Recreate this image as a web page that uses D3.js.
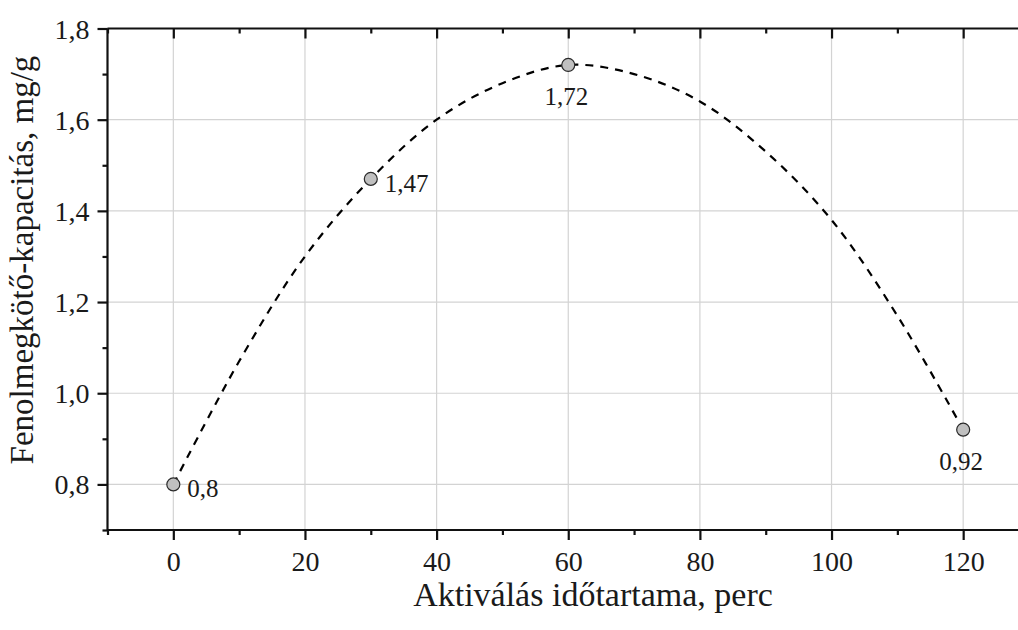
<!DOCTYPE html>
<html>
<head>
<meta charset="utf-8">
<script src="https://cdn.jsdelivr.net/npm/d3@7"></script>
<style>
  html, body { margin: 0; padding: 0; background: #fff; overflow: hidden; }
  svg { display: block; }
</style>
</head>
<body>
<svg id="chart" width="1018" height="630"></svg>
<script>
// ---- data ----
const times = [0, 30, 60, 120];                 // Aktiválás időtartama, perc
const capacity = [0.80, 1.47, 1.72, 0.92];       // Fenolmegkötő-kapacitás, mg/g
const pointLabels = ["0,8", "1,47", "1,72", "0,92"];
const labelSide = ["right", "right", "below", "below"];
// dashed trend curve
const curveX = [0, 10, 20, 30, 40, 50, 60, 70, 80, 90, 100, 110, 120];
const curveY = [0.80, 1.07, 1.30, 1.47, 1.60, 1.68, 1.72, 1.70, 1.64, 1.53, 1.38, 1.17, 0.92];
const xMajorTicks = [0, 20, 40, 60, 80, 100, 120];
const xMinorTicks = [-10, 10, 30, 50, 70, 90, 110, 130];
const yMajorTicks = [0.8, 1.0, 1.2, 1.4, 1.6, 1.8];
const yMinorTicks = [0.7, 0.9, 1.1, 1.3, 1.5, 1.7];
const xTitle = "Aktiválás időtartama, perc";
const yTitle = "Fenolmegkötő-kapacitás, mg/g";

// ---- layout ----
const FONT = '"Liberation Serif", "Times New Roman", serif';
const svg = d3.select("#chart");
const L = 107.5, R = 1029, T = 28.5, B = 530;
const x = d3.scaleLinear().domain([-10, 130]).range([L, R]);
const y = d3.scaleLinear().domain([0.7, 1.8]).range([B, T]);
const fmt = d => d3.format(".1f")(d).replace(".", ",");

// grid
const grid = svg.append("g").attr("stroke", "#d3d3d3").attr("stroke-width", 1.2);
grid.selectAll("line.v").data(xMajorTicks).join("line")
  .attr("x1", d => x(d)).attr("x2", d => x(d)).attr("y1", T).attr("y2", B);
grid.selectAll("line.h").data(yMajorTicks.filter(d => d < 1.8)).join("line")
  .attr("x1", L).attr("x2", R).attr("y1", d => y(d)).attr("y2", d => y(d));

// bottom axis
const gBottom = svg.append("g").attr("transform", `translate(0,${B})`)
  .call(d3.axisBottom(x).tickValues(xMajorTicks).tickSize(10).tickPadding(10).tickFormat(d3.format("d")));
const gBottomMinor = svg.append("g").attr("transform", `translate(0,${B})`)
  .call(d3.axisBottom(x).tickValues(xMinorTicks).tickSize(5).tickFormat(""));
// top axis (inward ticks)
const gTop = svg.append("g").attr("transform", `translate(0,${T})`)
  .call(d3.axisBottom(x).tickValues(xMajorTicks).tickSize(10).tickFormat(""));
const gTopMinor = svg.append("g").attr("transform", `translate(0,${T})`)
  .call(d3.axisBottom(x).tickValues(xMinorTicks).tickSize(5).tickFormat(""));
// left axis
const gLeft = svg.append("g").attr("transform", `translate(${L},0)`)
  .call(d3.axisLeft(y).tickValues(yMajorTicks).tickSize(10).tickPadding(8).tickFormat(fmt));
const gLeftMinor = svg.append("g").attr("transform", `translate(${L},0)`)
  .call(d3.axisLeft(y).tickValues(yMinorTicks).tickSize(5).tickFormat(""));

[gBottom, gBottomMinor, gTop, gTopMinor, gLeft, gLeftMinor].forEach(g => {
  g.select(".domain").attr("stroke", "#111").attr("stroke-width", 2.2);
  g.selectAll(".tick line").attr("stroke", "#111").attr("stroke-width", 2.2);
  g.selectAll(".tick text").attr("font-size", 28).attr("fill", "#1a1a1a")
    .style("font-family", FONT);
});
gTop.selectAll(".domain").attr("d", `M${L},0H${R}`);
gTopMinor.selectAll(".domain").remove();
gBottomMinor.selectAll(".domain").remove();
gLeftMinor.selectAll(".domain").remove();
gBottom.selectAll(".domain").attr("d", `M${L},0H${R}`);
gLeft.selectAll(".domain").attr("d", `M0,${T}V${B}`);
gLeft.selectAll(".tick text").attr("dy", "0.34em");
gBottom.selectAll(".tick text").attr("dy", "0.74em");

// dashed curve
const line = d3.line().x(d => x(d[0])).y(d => y(d[1])).curve(d3.curveCatmullRom.alpha(0.5));
svg.append("path")
  .datum(curveX.map((v, i) => [v, curveY[i]]))
  .attr("d", line)
  .attr("fill", "none").attr("stroke", "#000").attr("stroke-width", 2.2)
  .attr("stroke-dasharray", "8,7");

// points
const pts = times.map((t, i) => ({ t, v: capacity[i], lab: pointLabels[i], side: labelSide[i] }));
svg.append("g").selectAll("circle").data(pts).join("circle")
  .attr("cx", d => x(d.t)).attr("cy", d => y(d.v)).attr("r", 6.5)
  .attr("fill", "#c0c0c0").attr("stroke", "#2a2a2a").attr("stroke-width", 1.2);

svg.append("g").selectAll("text").data(pts).join("text")
  .attr("x", d => d.side === "right" ? x(d.t) + 14 : x(d.t) - 2)
  .attr("y", d => d.side === "right" ? y(d.v) + 13 : y(d.v) + 40)
  .attr("text-anchor", d => d.side === "right" ? "start" : "middle")
  .attr("font-size", 25).attr("fill", "#1a1a1a").style("font-family", FONT)
  .text(d => d.lab);

// titles
svg.append("text").attr("x", 593).attr("y", 606).attr("text-anchor", "middle")
  .attr("font-size", 34).attr("fill", "#1a1a1a").style("font-family", FONT).text(xTitle);
svg.append("text").attr("transform", "translate(33,260) rotate(-90)").attr("text-anchor", "middle")
  .attr("font-size", 33).attr("fill", "#1a1a1a").style("font-family", FONT).text(yTitle);
</script>
</body>
</html>
